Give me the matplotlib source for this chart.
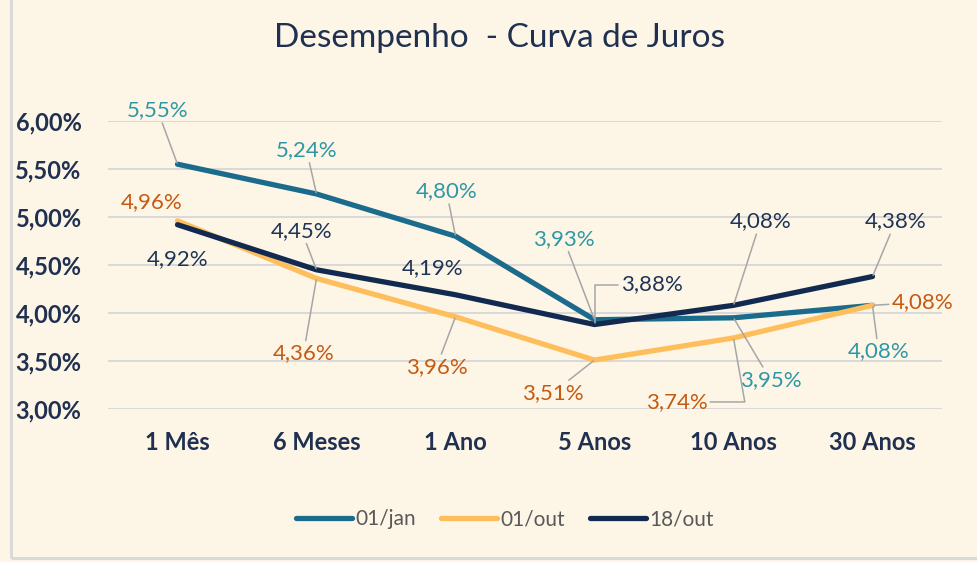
import numpy as np
import matplotlib.pyplot as plt
from matplotlib.patches import Rectangle

plt.rcParams['font.family'] = ['Lato', 'DejaVu Sans']

# dados da curva de juros
categorias = ['1 Mês', '6 Meses', '1 Ano', '5 Anos', '10 Anos', '30 Anos']
jan_01 = [5.55, 5.24, 4.80, 3.93, 3.95, 4.08]
out_01 = [4.96, 4.36, 3.96, 3.51, 3.74, 4.08]
out_18 = [4.92, 4.45, 4.19, 3.88, 4.08, 4.38]
series = ['01/jan', '01/out', '18/out']

FUNDO = '#FDF6E7'
AZUL = '#1B6B8C'
AMARELO = '#FFBE5C'
MARINHO = '#122A4F'
TXT = '#1F3050'

fig = plt.figure(figsize=(9.77, 5.62), dpi=100, facecolor=FUNDO)
ax = fig.add_axes([108 / 977, 1 - 409 / 562, 834 / 977, 288 / 562])
ax.set_facecolor(FUNDO)

# borda do quadro do gráfico
fig.patches.append(Rectangle((11 / 977, 1 - 558 / 562), 1.2, 1.2, transform=fig.transFigure,
                             fill=False, edgecolor='#D9D9D9', lw=2.2, zorder=0))

x = np.arange(len(categorias))
for vals, cor, nome in [(jan_01, AZUL, series[0]), (out_01, AMARELO, series[1]), (out_18, MARINHO, series[2])]:
    ax.plot(x, vals, color=cor, lw=3.8, solid_capstyle='round', solid_joinstyle='round', label=nome, zorder=3)

ax.set_xlim(-0.5, 5.5)
ax.set_ylim(3, 6)
ax.set_yticks(np.arange(3, 6.01, 0.5))
ax.set_yticklabels([f'{v:.2f}%'.replace('.', ',') for v in np.arange(3, 6.01, 0.5)])
ax.set_xticks(x)
ax.set_xticklabels(categorias)
ax.tick_params(axis='y', length=0, pad=19, labelsize=17, labelcolor=TXT)
ax.tick_params(axis='x', length=0, pad=16, labelsize=17, labelcolor=TXT)
for t in ax.get_xticklabels() + ax.get_yticklabels():
    t.set_fontweight('bold')
ax.grid(axis='y', color='#D9D9D9', lw=1.4, zorder=0)
for s in ax.spines.values():
    s.set_visible(False)

# rótulos: (deslocamento em px, estilo da linha guia)
rotulos = {
    0: (jan_01, '#2E97A6', [(-20, 54, 1), (-10, 44, 1), (-9, 45, 1), (-31, 81, 1), (37, -62, 1), (6, -46, 1)]),
    1: (out_01, '#C55A11', [(-26, 19, 0), (-13, -75, 1), (-19, -50, 1), (-42, -33, 1), (-57, -64, 2), (50, 3, 1)]),
    2: (out_18, '#1F3355', [(0, -34, 0), (-15, 39, 1), (-23, 27, 0), (57, 40, 3), (27, 84, 1), (23, 55, 1)]),
}
for k, (vals, cor, offs) in rotulos.items():
    for i, (v, (dx, dy, guia)) in enumerate(zip(vals, offs)):
        txt = f'{v:.2f}%'.replace('.', ',')
        props = None
        if guia == 1:
            props = dict(arrowstyle='-', color='#A6A6A6', lw=1.1, shrinkA=0, shrinkB=1)
        elif guia == 2:
            props = dict(arrowstyle='-', color='#A6A6A6', lw=1.1, shrinkA=0, shrinkB=1,
                         relpos=(1, 0.5), connectionstyle='angle,angleA=0,angleB=100,rad=0')
        elif guia == 3:
            props = dict(arrowstyle='-', color='#A6A6A6', lw=1.1, shrinkA=0, shrinkB=1,
                         relpos=(0, 0.5), connectionstyle='angle,angleA=180,angleB=90,rad=0')
        ax.annotate(txt, xy=(i, v), xytext=(dx, dy), textcoords='offset pixels',
                    ha='center', va='center', fontsize=16, color=cor,
                    arrowprops=props, zorder=4)

fig.text(500 / 977, 1 - 38 / 562, 'Desempenho  - Curva de Juros', ha='center', va='center',
         fontsize=24, color=TXT)

fig.legend(loc='center', bbox_to_anchor=(505 / 977, 1 - 519 / 562), ncol=3, frameon=False,
           fontsize=15, labelcolor='#595959', handlelength=2.7, handletextpad=0.15,
           columnspacing=1.2)

fig.savefig('out.png', dpi=100, facecolor=FUNDO)
